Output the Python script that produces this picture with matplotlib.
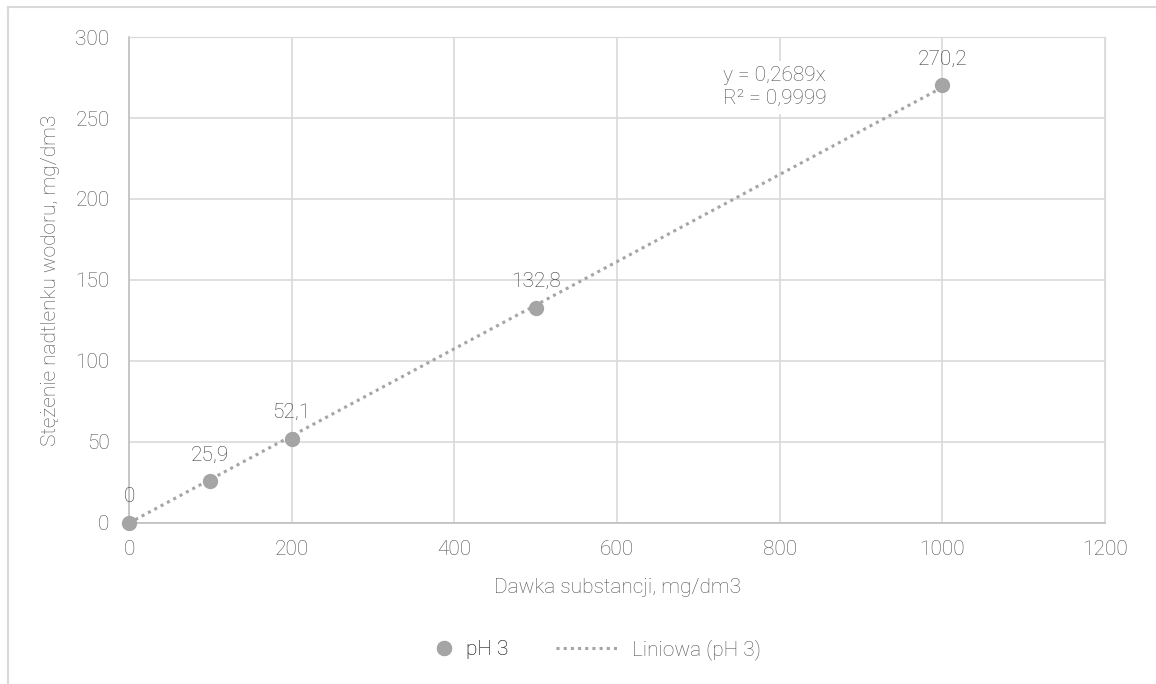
import matplotlib.pyplot as plt
from matplotlib.lines import Line2D

# pomiary dla pH 3
dawka = [0, 100, 200, 500, 1000]
stezenie = [0, 25.9, 52.1, 132.8, 270.2]
etykiety = ['0', '25,9', '52,1', '132,8', '270,2']
nachylenie = 0.2689
r2 = 0.9999
x_ticks = [0, 200, 400, 600, 800, 1000, 1200]
y_ticks = [0, 50, 100, 150, 200, 250, 300]

plt.rcParams['font.family'] = ['Roboto', 'DejaVu Sans']
plt.rcParams['font.weight'] = 'light'
plt.rcParams['axes.labelweight'] = 'light'

FS = 15
SZARY = '#a5a5a5'
TEKST = '#505050'
KROPKI = (0, (1, 1.35))

fig = plt.figure(figsize=(11.56, 6.84), dpi=100)
ax = fig.add_axes([0.1116, 0.2354, 0.8443, 0.7105])

# ramka wykresu (lewa i gorna krawedz)
fig.add_artist(Line2D([0.007, 0.007], [0, 0.99], transform=fig.transFigure, color='#d9d9d9', lw=1.5))
fig.add_artist(Line2D([0.007, 1], [0.99, 0.99], transform=fig.transFigure, color='#d9d9d9', lw=1.5))

ax.set_xlim(0, 1200)
ax.set_ylim(0, 300)
ax.set_xticks(x_ticks)
ax.set_yticks(y_ticks)
ax.grid(True, color='#d9d9d9', lw=1.2)
ax.set_axisbelow(True)
for s in ['top', 'right']:
    ax.spines[s].set_color('#d9d9d9')
for s in ['left', 'bottom']:
    ax.spines[s].set_color('#bfbfbf')
    ax.spines[s].set_linewidth(1.2)
ax.tick_params(length=0, labelsize=FS, colors=TEKST)
ax.tick_params(axis='x', pad=12)
ax.tick_params(axis='y', pad=14)

# linia trendu
xt = [0, max(dawka)]
ax.plot(xt, [nachylenie * v for v in xt], ls=KROPKI, lw=2.2, color=SZARY, zorder=3)
ax.scatter(dawka, stezenie, s=100, color=SZARY, zorder=4, clip_on=False)

for x, y, t in zip(dawka, stezenie, etykiety):
    ax.annotate(t, (x, y), xytext=(0, 12), textcoords='offset points', ha='center', va='bottom',
                fontsize=FS, color='#3a3a3a')

rownanie = 'y = ' + f'{nachylenie:.4f}'.replace('.', ',') + 'x\nR² = ' + f'{r2:.4f}'.replace('.', ',')
ax.text(730, 269, rownanie, fontsize=FS, color=TEKST, va='center', ha='left', linespacing=1.25,
        bbox=dict(facecolor='white', edgecolor='none', pad=4), zorder=5)

ax.set_xlabel('Dawka substancji, mg/dm3', fontsize=FS, color=TEKST, labelpad=14)
ax.set_ylabel('Stężenie nadtlenku wodoru, mg/dm3', fontsize=FS, color=TEKST, labelpad=11)

# legenda: punkt i linia trendu osobno, zeby miec rozne dlugosci uchwytow
leg1 = fig.legend([Line2D([], [], marker='o', ls='none', ms=10, color=SZARY)], ['pH 3'],
                  loc='center left', bbox_to_anchor=(0.3754, 0.05), frameon=False, fontsize=FS,
                  labelcolor=TEKST, handlelength=1.0, handletextpad=0.55, borderpad=0, borderaxespad=0)
fig.legend([Line2D([], [], ls=KROPKI, lw=2.2, color=SZARY)], ['Liniowa (pH 3)'],
           loc='center left', bbox_to_anchor=(0.481, 0.05), frameon=False, fontsize=FS,
           labelcolor=TEKST, handlelength=3.08, handletextpad=0.58, borderpad=0, borderaxespad=0)
fig.add_artist(leg1)

fig.savefig('out.png', dpi=100)
